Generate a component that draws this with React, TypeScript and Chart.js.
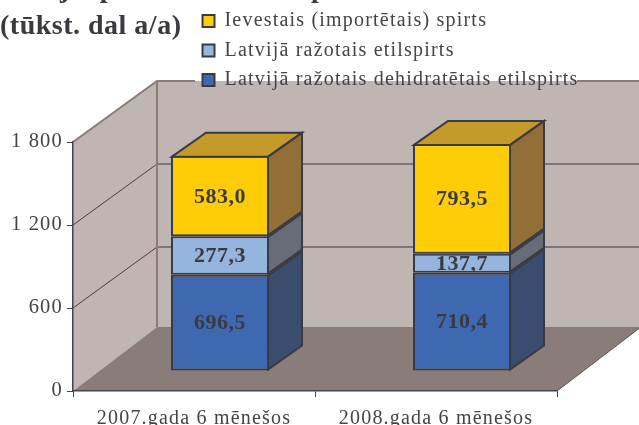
import React, { useEffect, useRef } from "react";
import { Chart, registerables } from "chart.js";

Chart.register(...registerables);

const categories = ["2007.gada 6 mēnešos", "2008.gada 6 mēnešos"];
const seriesNames = [
  "Latvijā ražotais dehidratētais etilspirts",
  "Latvijā ražotais etilspirts",
  "Ievestais (importētais) spirts",
];
const dehydrated = [696.5, 710.4];
const ethyl = [277.3, 137.7];
const imported = [583.0, 793.5];
const yTicks = [0, 600, 1200, 1800];
const titleLines = ["        j    p                          p", "(tūkst. dal a/a)"];

const frontColors = ["#3E68B0", "#95B5DF", "#FFCC08"];
const sideColors = ["#3A4D6E", "#666C78", "#936F38"];
const topColor = "#C49A2A";
const edge = "#3A3A42";
const ink = "#44444C";
const wallColor = "#BFB5B2";
const floorColor = "#8A7C78";
const wallEdge = "#8A7C78";

const WALL_DX = 84;
const WALL_DY = 61;
const FLOOR_DY = 64;
const BAR_SHIFT_X = 26;
const BAR_SHIFT_Y = 20;
const BAR_DX = 34;
const BAR_DY = 24;
const SPACING = "1.2px";
const TITLE_SPACING = "0.5px";
const LABEL_SPACING = "0.5px";

function poly(ctx: CanvasRenderingContext2D, pts: number[][], fill?: string, stroke?: string, lw = 1) {
  ctx.beginPath();
  pts.forEach((p, i) => (i ? ctx.lineTo(p[0], p[1]) : ctx.moveTo(p[0], p[1])));
  if (fill) {
    ctx.closePath();
    ctx.fillStyle = fill;
    ctx.fill();
  }
  if (stroke) {
    ctx.strokeStyle = stroke;
    ctx.lineWidth = lw;
    ctx.stroke();
  }
}

const box3d = {
  id: "box3d",
  afterLayout(chart: any) {
    const lg = chart.legend;
    const w = 400;
    const h = 130;
    lg.left = 193;
    lg.right = 193 + w;
    lg.top = 1.5;
    lg.bottom = h;
    lg.width = w;
    lg.height = h;
    const tb = chart.titleBlock;
    if (!tb.__spaced) {
      const original = tb.draw.bind(tb);
      tb.draw = (...a: any[]) => {
        const ctx = chart.ctx;
        ctx.letterSpacing = TITLE_SPACING;
        original(...a);
        ctx.letterSpacing = SPACING;
      };
      tb.__spaced = true;
    }
  },
  beforeDraw(chart: any) {
    const ctx = chart.ctx;
    const { left: l, right: r, top: t, bottom: b } = chart.chartArea;
    const dx = WALL_DX;
    const dy = WALL_DY;
    (ctx as any).letterSpacing = SPACING;
    ctx.save();
    poly(ctx, [[l + dx, t - dy], [r + dx, t - dy], [r + dx, b - FLOOR_DY], [l + dx, b - FLOOR_DY]], wallColor);
    poly(ctx, [[l, t], [l + dx, t - dy], [l + dx, b - FLOOR_DY], [l, b]], wallColor);
    poly(ctx, [[l, b], [l + dx, b - FLOOR_DY], [r + dx, b - FLOOR_DY], [r, b]], floorColor);
    poly(ctx, [[r, b], [r + dx, b - FLOOR_DY]], undefined, "#5C5456", 1);
    const ys = chart.scales.y;
    ys.ticks.forEach((tk: any) => {
      if (tk.value <= 0 || tk.value >= 1800) return;
      const y = ys.getPixelForValue(tk.value);
      poly(ctx, [[l, y], [l + dx, y - dy]], undefined, "#4A4044", 1);
      poly(ctx, [[l + dx, y - dy], [r + dx, y - dy]], undefined, "#6A6064", 1.5);
    });
    poly(ctx, [[l, t], [l + dx, t - dy], [195, t - dy]], undefined, wallEdge, 2);
    poly(ctx, [[577, t - dy], [r + dx, t - dy]], undefined, wallEdge, 2);
    poly(ctx, [[l + dx, t - dy], [l + dx, b - FLOOR_DY]], undefined, wallEdge, 2);
    ctx.restore();
  },
  beforeDatasetsDraw(chart: any) {
    chart.ctx.save();
    chart.ctx.translate(BAR_SHIFT_X, -BAR_SHIFT_Y);
  },
  afterDatasetDraw(chart: any, args: any) {
    const ctx = chart.ctx;
    const i = args.index;
    const meta = chart.getDatasetMeta(i);
    const values = chart.data.datasets[i].data;
    meta.data.forEach((el: any, k: number) => {
      const left = el.x - el.width / 2;
      const right = el.x + el.width / 2;
      const inset = 1;
      ctx.save();
      poly(
        ctx,
        [
          [right - inset, el.y + inset],
          [right - inset + BAR_DX, el.y + inset - BAR_DY],
          [right - inset + BAR_DX, el.base - inset - BAR_DY],
          [right - inset, el.base - inset],
        ],
        sideColors[i],
        edge,
        2
      );
      if (i === chart.data.datasets.length - 1) {
        poly(
          ctx,
          [
            [left + inset, el.y + inset],
            [left + inset + BAR_DX, el.y + inset - BAR_DY],
            [right - inset + BAR_DX, el.y + inset - BAR_DY],
            [right - inset, el.y + inset],
          ],
          topColor,
          edge,
          2
        );
      }
      ctx.beginPath();
      ctx.rect(left, el.y + 2, el.width, el.base - el.y - 4);
      ctx.clip();
      ctx.letterSpacing = LABEL_SPACING;
      ctx.font = 'bold 22px "Liberation Serif"';
      ctx.fillStyle = edge;
      ctx.textAlign = "center";
      ctx.textBaseline = "middle";
      ctx.fillText(values[k].toFixed(1).replace(".", ","), el.x, (el.y + el.base) / 2 + 1);
      ctx.restore();
    });
  },
  afterDatasetsDraw(chart: any) {
    chart.ctx.restore();
  },
};

export default function App() {
  const ref = useRef<HTMLCanvasElement>(null);
  useEffect(() => {
    document.body.style.margin = "0";
    const serif = "Liberation Serif";
    const series = [dehydrated, ethyl, imported];
    const chart = new Chart(ref.current as HTMLCanvasElement, {
      type: "bar",
      data: {
        labels: categories,
        datasets: series.map((data, i) => ({
          label: seriesNames[i],
          data,
          backgroundColor: frontColors[i],
          borderColor: edge,
          borderWidth: 2,
          borderSkipped: false,
          barPercentage: 1,
          categoryPercentage: 0.405,
          clip: false,
        })),
      },
      options: {
        responsive: false,
        animation: false,
        layout: { padding: { top: 0, right: 82, left: 0, bottom: 0 } },
        scales: {
          x: {
            stacked: true,
            afterFit: (s: any) => {
              s.height = 34;
            },
            grid: { drawOnChartArea: false, drawTicks: true, tickLength: 6, color: ink },
            border: { color: ink, width: 1.5 },
            ticks: { color: ink, font: { family: serif, size: 20 }, padding: 10, maxRotation: 0 },
          },
          y: {
            stacked: true,
            min: 0,
            max: 1800,
            afterBuildTicks: (s: any) => {
              s.ticks = yTicks.map((value) => ({ value }));
            },
            afterFit: (s: any) => {
              s.width = 73;
            },
            grid: { drawOnChartArea: false, drawTicks: true, tickLength: 6, color: ink },
            border: { color: ink, width: 1.5 },
            ticks: {
              color: ink,
              font: { family: serif, size: 20.5 },
              padding: 4,
              callback: (v: any) => String(v).replace(/\B(?=(\d{3})+$)/g, " "),
            },
          },
        },
        plugins: {
          tooltip: { enabled: false },
          title: {
            display: true,
            text: titleLines,
            align: "start",
            color: edge,
            font: { family: serif, size: 28, weight: "bold", lineHeight: 1.32 },
            padding: { top: -28.5, bottom: 96.6 },
          },
          legend: {
            position: "chartArea",
            reverse: true,
            align: "start",
            labels: {
              boxWidth: 12,
              boxHeight: 12,
              padding: 9.5,
              color: ink,
              font: { family: serif, size: 20 },
            },
          },
        },
      } as any,
      plugins: [box3d],
    });
    return () => chart.destroy();
  }, []);
  return <canvas ref={ref} width={639} height={425} style={{ display: "block" }} />;
}
